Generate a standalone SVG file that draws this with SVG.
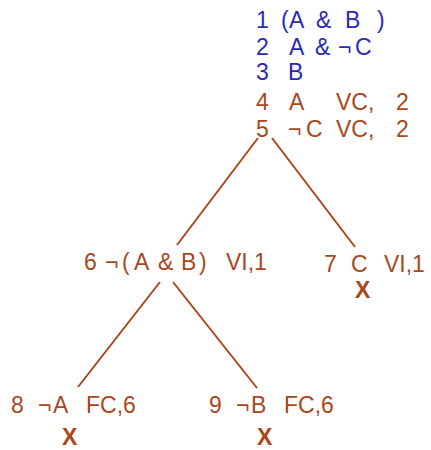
<svg xmlns="http://www.w3.org/2000/svg" width="431" height="450" viewBox="0 0 431 450">
<style>
text{font-family:"Liberation Sans",Arial,sans-serif;font-size:23px}
.b{fill:#2a2ab4}
.r{fill:#a8481c}
.x{font-weight:bold;fill:#a8481c}
.e{stroke:#a8481c;stroke-width:2;fill:none}
</style>
<rect width="431" height="450" fill="#fff"/>
<g id="connectors">
<line class="e" x1="258" y1="138" x2="177" y2="245"/>
<line class="e" x1="272" y1="138" x2="355" y2="247"/>
<line class="e" x1="160" y1="282" x2="78" y2="387"/>
<line class="e" x1="173" y1="282" x2="257" y2="388"/>
</g>
<g id="root">
<text class="b" y="28"><tspan x="256">1</tspan><tspan x="281">(</tspan><tspan x="289">A</tspan><tspan x="316">&amp;</tspan><tspan x="345">B</tspan><tspan x="377">)</tspan></text>
<text class="b" y="55"><tspan x="256">2</tspan><tspan x="289">A</tspan><tspan x="315">&amp;</tspan><tspan x="338">¬</tspan><tspan x="355">C</tspan></text>
<text class="b" y="80"><tspan x="256">3</tspan><tspan x="288">B</tspan></text>
<text class="r" y="110"><tspan x="256">4</tspan><tspan x="289">A</tspan><tspan x="336">VC,</tspan><tspan x="396">2</tspan></text>
<text class="r" y="137"><tspan x="256">5</tspan><tspan x="288">¬</tspan><tspan x="306">C</tspan><tspan x="336">VC,</tspan><tspan x="396">2</tspan></text>
</g>
<g id="n6">
<text class="r" y="270"><tspan x="84">6</tspan><tspan x="105">¬</tspan><tspan x="122">(</tspan><tspan x="134">A</tspan><tspan x="158">&amp;</tspan><tspan x="181">B</tspan><tspan x="199">)</tspan><tspan x="226">VI,1</tspan></text>
</g>
<g id="n7">
<text class="r" y="272"><tspan x="324">7</tspan><tspan x="351">C</tspan><tspan x="384">VI,1</tspan></text>
<text class="x" x="355" y="298">X</text>
</g>
<g id="n8">
<text class="r" y="413"><tspan x="11">8</tspan><tspan x="38">¬</tspan><tspan x="53">A</tspan><tspan x="86">FC,6</tspan></text>
<text class="x" x="62" y="445">X</text>
</g>
<g id="n9">
<text class="r" y="413"><tspan x="209">9</tspan><tspan x="236">¬</tspan><tspan x="251">B</tspan><tspan x="284">FC,6</tspan></text>
<text class="x" x="257" y="445">X</text>
</g>
</svg>
